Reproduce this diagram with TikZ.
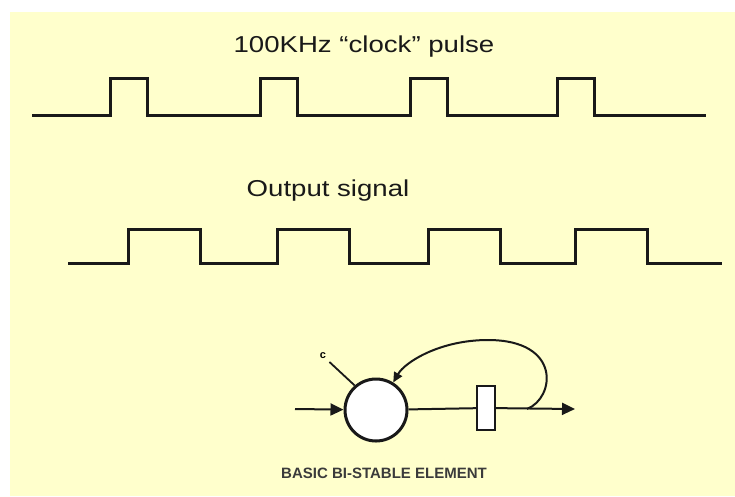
\documentclass[tikz,border=0pt]{standalone}
\usepackage{fontspec}
\setmainfont{Liberation Sans}
\newfontfamily\wavefont[FakeStretch=1.2]{Liberation Sans}
\usetikzlibrary{arrows.meta}
\definecolor{paper}{RGB}{255,255,204}
\definecolor{ink}{RGB}{25,25,25}

\begin{document}
\begin{tikzpicture}[
  x=1pt, y=-1pt,
  wave/.style={draw=ink, line width=3pt, line join=miter},
  title/.style={font=\wavefont\fontsize{23}{26}\selectfont, text=ink, inner sep=0pt},
  element/.style={circle, draw=ink, line width=3pt, fill=white, minimum size=62pt, inner sep=0pt},
  delay/.style={rectangle, draw=ink, line width=1.8pt, fill=white, minimum width=18pt, minimum height=44pt, inner sep=0pt},
  signal/.style={draw=ink, line width=2pt, -{Triangle[length=13pt,width=12pt]}},
  feedback/.style={draw=ink, line width=2pt, -{Triangle[length=10pt,width=9pt]}},
  caption/.style={font=\bfseries\fontsize{15}{17}\selectfont, text=ink!85, inner sep=0pt}
]
\useasboundingbox (0,0) rectangle (735,496);
\fill[paper] (10,12) rectangle (735,496);

% clock pulses
\node[title] (clocklabel) at (364,47) {100KHz “clock” pulse};
\draw[wave] (32,115) foreach \x in {110,260,410,557} {
  -- (\x,115) -- (\x,78) -- (\x+37,78) -- (\x+37,115) } -- (706,115);

% output signal
\node[title] (outlabel) at (328,191) {Output signal};
\draw[wave] (68,263) foreach \x in {128,277,428,575} {
  -- (\x,263) -- (\x,229) -- (\x+72,229) -- (\x+72,263) } -- (722,263);

% bi-stable element
\node[element] (elem) at (376,410) {};
\node[delay] (store) at (486,408) {};
\coordinate (input) at (295,409);
\coordinate (output) at (575,409);
\coordinate (tap) at (527,409);
\node[font=\bfseries\fontsize{11}{12}\selectfont, inner sep=1pt] (clk) at (323,356) {c};

\draw[signal] (input) -- (elem);
\draw[draw=ink, line width=2pt] (elem) -- (store);
\draw[signal] (store) -- (output);
\draw[feedback] (tap) .. controls (555,398) and (562,340) .. (488,340)
  .. controls (440,340) and (405,362) .. (elem.58);
\draw[draw=ink, line width=1.8pt, shorten <=3pt] (clk) -- (elem.131);
\node[caption] (title) at (384,473) {BASIC BI-STABLE ELEMENT};
\end{tikzpicture}
\end{document}
